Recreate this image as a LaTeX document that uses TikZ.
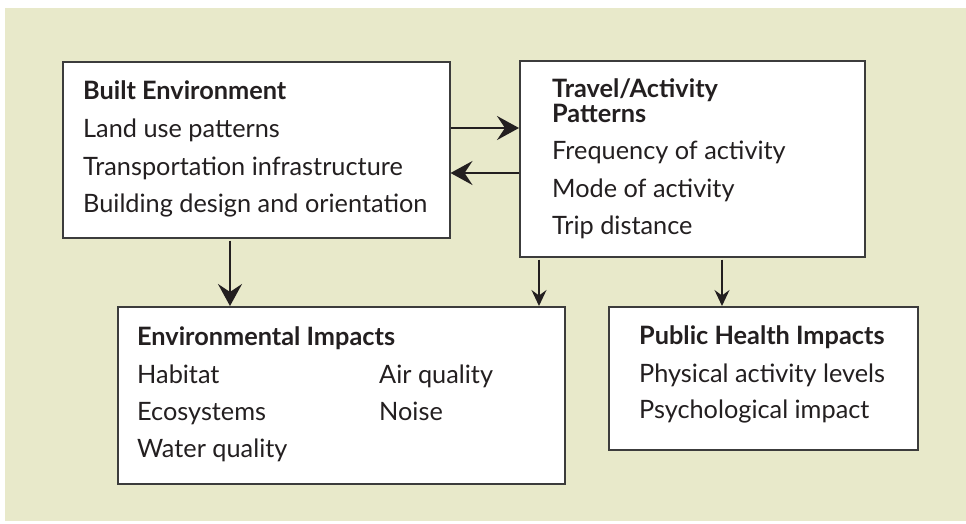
\documentclass[tikz,border=0pt]{standalone}
\usepackage{fontspec}
\setmainfont{Lato}
\usetikzlibrary{arrows.meta}
\definecolor{bg}{RGB}{232,233,202}
\definecolor{ink}{RGB}{35,31,32}
\definecolor{frame}{RGB}{60,60,60}
\begin{document}
\begin{tikzpicture}[x=1pt,y=-1pt,
  box/.style={draw=frame,line width=1.5pt,fill=white,inner sep=0pt,anchor=north west},
  ln/.style={anchor=base west,inner sep=0pt,text=ink,font=\fontsize{25.3}{29}\selectfont},
  hd/.style={anchor=base west,inner sep=0pt,text=ink,font=\fontsize{25.3}{29}\selectfont\bfseries},
  bigarrow/.style={draw=ink,line width=2.5pt,-{Stealth[length=22pt,width=24pt,inset=8pt]}},
  smallarrow/.style={draw=ink,line width=1.3pt,-{Stealth[length=16pt,width=15pt,inset=5.5pt]}}]
\useasboundingbox (0,0) rectangle (966,523);
\fill[bg] (5,8) rectangle (966,521);
% boxes
\node[box,minimum width=387pt,minimum height=176pt] (be) at (62,61) {};
\node[box,minimum width=345pt,minimum height=196pt] (tp) at (519,60) {};
\node[box,minimum width=447pt,minimum height=177pt] (ei) at (117,306) {};
\node[box,minimum width=309pt,minimum height=143pt] (ph) at (608,306) {};
% Built environment
\node[hd] (be0) at (83,99) {Built Environment};
\node[ln] (be1) at (83,137) {Land use patterns};
\node[ln] (be2) at (83,175) {Transportation infrastructure};
\node[ln] (be3) at (83,212) {Building design and orientation};
% Travel
\node[hd] (tp0) at (552,97) {Travel/Activity};
\node[hd] (tp1) at (552,122) {Patterns};
\node[ln] (tp2) at (552,159) {Frequency of activity};
\node[ln] (tp3) at (552,197) {Mode of activity};
\node[ln] (tp4) at (552,234) {Trip distance};
% Environmental
\node[hd] (ei0) at (137,345) {Environmental Impacts};
\node[ln] (ei1) at (137,383) {Habitat};
\node[ln] (ei2) at (137,420) {Ecosystems};
\node[ln] (ei3) at (137,457) {Water quality};
\node[ln] (ei4) at (379,383) {Air quality};
\node[ln] (ei5) at (379,420) {Noise};
% Public health
\node[hd] (ph0) at (639,344) {Public Health Impacts};
\node[ln] (ph1) at (639,382) {Physical activity levels};
\node[ln] (ph2) at (639,418) {Psychological impact};
% arrows
\draw[bigarrow] (be.east |- 0,128) -- (tp.west |- 0,128);
\draw[bigarrow] (tp.west |- 0,173) -- (be.east |- 0,173);
\draw[bigarrow,shorten <=2pt] (be.south -| 230,0) -- (ei.north -| 230,0);
\draw[smallarrow,shorten <=2pt] (tp.south -| 539,0) -- (ei.north -| 539,0);
\draw[smallarrow,shorten <=2pt] (tp.south -| 722,0) -- (ph.north -| 722,0);
\end{tikzpicture}
\end{document}
